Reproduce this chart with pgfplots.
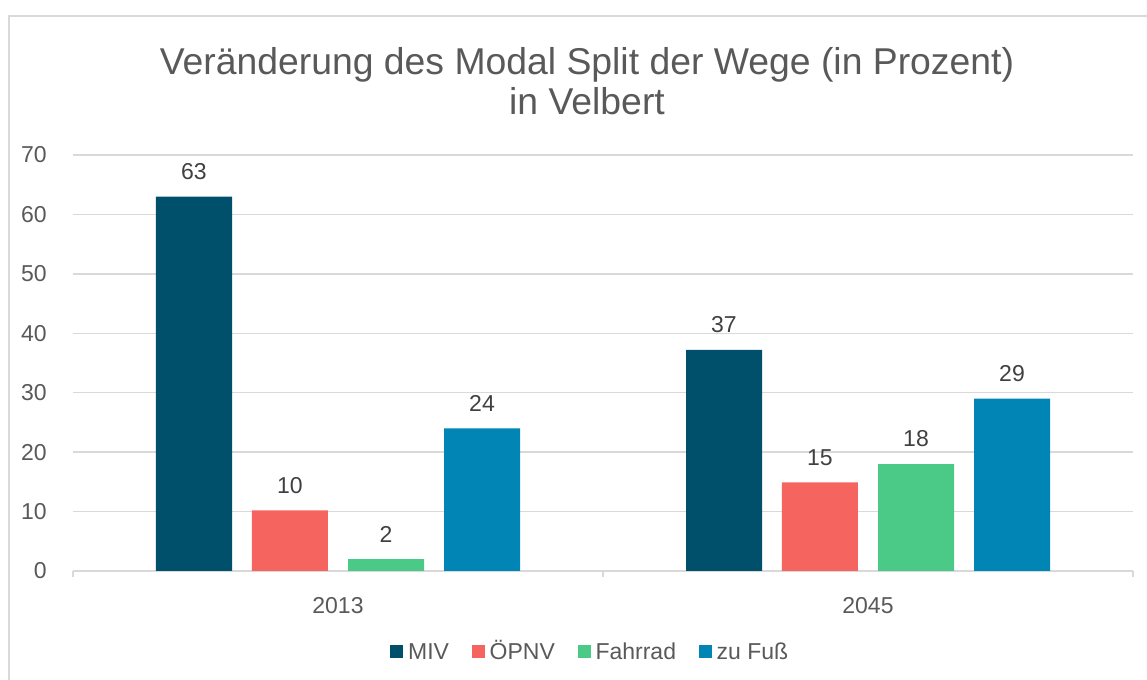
\documentclass[border=0pt]{standalone}
\usepackage{pgfplots}
\pgfplotsset{compat=1.18}
\usepackage{fontspec}
\setmainfont{Liberation Sans}
\definecolor{gridgray}{HTML}{D9D9D9}
\definecolor{textgray}{HTML}{595959}
\definecolor{labelgray}{HTML}{404040}
\definecolor{cmiv}{HTML}{00506B}
\definecolor{coepnv}{HTML}{F5645E}
\definecolor{cfahr}{HTML}{4BCA87}
\definecolor{cfuss}{HTML}{0085B5}
\begin{document}
\begin{tikzpicture}
\path[use as bounding box] (0pt,0pt) rectangle (860.25pt,510pt);
\draw[gridgray, line width=1.1pt] (6.75pt,-2pt) -- (6.75pt,498pt) -- (862pt,498pt);
\node[anchor=base, text=textgray, font=\fontsize{28}{34}\selectfont, inner sep=0pt] at (440.25pt,453.75pt) {Veränderung des Modal Split der Wege (in Prozent)};
\node[anchor=base, text=textgray, font=\fontsize{28}{34}\selectfont, inner sep=0pt] at (440.25pt,423.75pt) {in Velbert};
\begin{axis}[
  at={(54.75pt,81.75pt)}, anchor=south west,
  scale only axis, width=795pt, height=312pt,
  ybar,
  xmin=-0.5, xmax=1.5, ymin=0, ymax=70,
  enlargelimits=false,
  xtick={0,1}, xticklabels={2013,2045},
  ytick={0,10,...,70},
  axis lines*=left,
  y axis line style={draw=none},
  x axis line style={draw=gridgray, line width=1.1pt},
  ymajorgrids, grid style={draw=gridgray, line width=1.1pt},
  xtick style={draw=none}, ytick style={draw=none},
  tick align=outside, major tick length=4.5pt,
  extra x ticks={-0.5,0.5,1.5}, extra x tick labels={},
  extra x tick style={xtick style={draw=gridgray, line width=1.1pt}, grid=none},
  /pgf/number format/assume math mode=true,
  tick label style={font=\fontsize{17.25}{20}\selectfont, text=textgray},
  yticklabel style={inner sep=0pt, anchor=east, xshift=-15pt},
  xticklabel style={inner sep=0pt, anchor=north, yshift=-15.4pt},
  nodes near coords={\pgfmathprintnumber[fixed,precision=0]{\pgfplotspointmeta}},
  every node near coord/.append style={font=\fontsize{17.25}{20}\selectfont, text=labelgray, inner sep=0pt, anchor=south, yshift=12.4pt},
  bar width=0.1434,
  legend style={draw=none, fill=none, at={(0.487,-0.192)}, anchor=center,
    legend columns=4, font=\fontsize{17.25}{20}\selectfont, text=textgray,
    nodes={inner sep=0pt},
    cells={anchor=base west},
    /tikz/every odd column/.style={column sep=3.75pt},
    /tikz/every even column/.style={column sep=17pt}},
  legend image code/.code={\fill[#1] (0pt,1.3pt) rectangle (9.75pt,11.05pt);},
]
\addplot[fill=cmiv, draw=none, bar shift=-0.2717] coordinates {(0,63) (1,37.2)};
\addplot[fill=coepnv, draw=none, bar shift=-0.0906] coordinates {(0,10.2) (1,14.9)};
\addplot[fill=cfahr, draw=none, bar shift=0.0906] coordinates {(0,2) (1,18)};
\addplot[fill=cfuss, draw=none, bar shift=0.2717] coordinates {(0,24) (1,29)};
\legend{MIV,ÖPNV,Fahrrad,zu Fuß}
\end{axis}
\end{tikzpicture}
\end{document}
